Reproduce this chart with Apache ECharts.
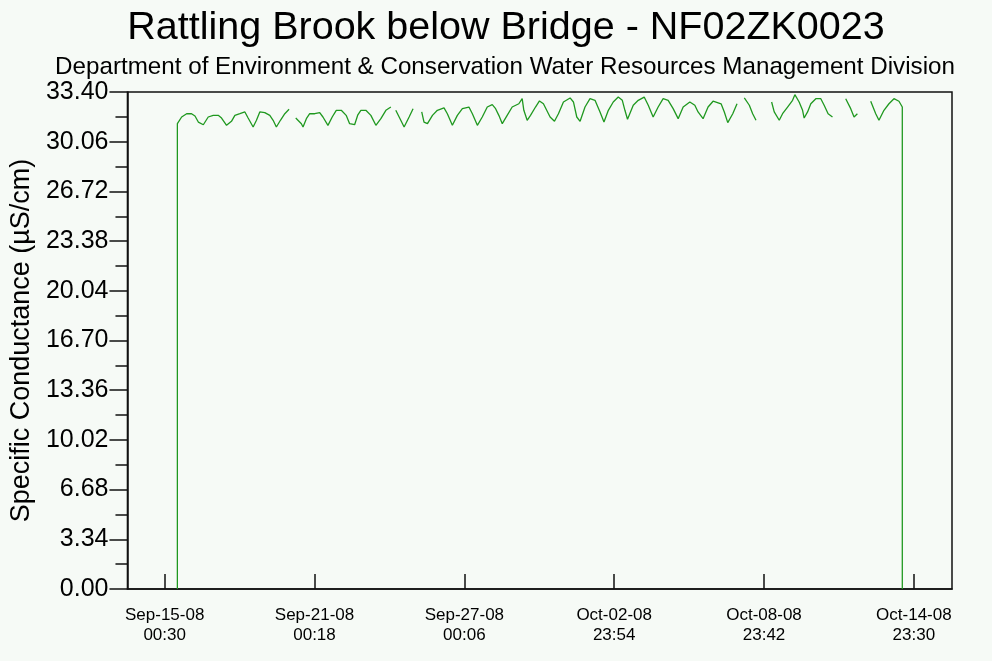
<!DOCTYPE html>
<html>
<head>
<meta charset="utf-8">
<script src="https://cdn.jsdelivr.net/npm/echarts@6/dist/echarts.min.js"></script>
<style>
  html, body { margin: 0; padding: 0; background: #f6faf6; }
  #chart { width: 992px; height: 661px; }
</style>
</head>
<body>
<div id="chart"></div>
<script>
// Specific conductance (µS/cm) logged at Rattling Brook below Bridge.
// Each pair is [hours since 2008-09-15 00:30, reading]; runs are separated where the record has gaps.
const run1 = [[12.2,0],[12.2,31.27],[16.3,31.72],[21.1,31.94],[25.8,31.94],[29.1,31.79],[32.3,31.38],[37.1,31.20],[41.8,31.72],[46.6,31.83],[51.4,31.83],[54.6,31.65],[59.4,31.16],[64.1,31.43],[67.4,31.83],[72.2,31.94],[77.0,32.06],[80.1,31.65],[84.9,31.05],[88.1,31.50],[91.3,32.06],[96.1,32.01],[100.9,31.83],[104.1,31.50],[107.2,31.05],[111.1,31.50],[115.3,31.94],[119.4,32.24]];
const run2 = [[125.8,31.65],[131.2,31.27],[132.8,31.05],[136.0,31.61],[139.2,31.94],[144.0,31.94],[148.8,32.01],[151.9,31.72],[156.7,31.16],[160.8,31.72],[164.7,32.17],[169.5,32.17],[174.2,31.83],[177.5,31.27],[182.3,31.20],[185.4,31.87],[188.3,32.17],[193.1,32.17],[197.9,31.83],[202.7,31.16],[207.5,31.61],[212.3,32.17],[217.1,32.39]];
const run3 = [[221.8,32.17],[226.6,31.50],[229.8,31.05],[234.6,31.72],[238.4,32.28]];
const run4 = [[246.7,32.06],[248.9,31.38],[252.2,31.27],[257.0,31.83],[261.7,32.17],[268.1,32.33],[271.3,31.94],[276.1,31.16],[280.9,31.83],[285.7,32.28],[292.0,32.39],[295.3,31.94],[300.1,31.16],[304.8,31.72],[309.6,32.39],[314.4,32.55],[317.6,32.28],[320.7,31.83],[324.0,31.27],[328.7,31.83],[333.5,32.39],[339.9,32.61],[343.1,32.95],[344.7,32.17],[347.9,31.50],[351.1,31.83],[355.9,32.39],[359.7,32.80],[363.5,32.61],[369.9,31.72],[374.1,31.43],[377.9,31.94],[382.7,32.73],[389.1,33.00],[392.3,32.73],[395.5,31.72],[398.7,31.43],[403.4,32.39],[408.2,32.95],[413.0,32.84],[417.8,32.06],[421.6,31.38],[425.8,32.17],[430.5,32.73],[435.3,33.06],[439.2,32.84],[441.7,32.17],[444.2,31.57],[449.7,32.51],[454.5,32.84],[460.2,33.06],[464.1,32.51],[468.8,31.72],[473.6,32.39],[478.4,32.95],[483.2,32.84],[488.0,32.28],[492.8,31.61],[497.6,32.39],[504.0,32.73],[508.8,32.51],[511.9,32.06],[516.7,31.61],[521.5,32.39],[526.3,32.78],[534.0,32.61],[537.1,32.06],[540.4,31.34],[545.2,31.94],[549.3,32.61]];
const run5 = [[556.3,33.00],[561.1,32.51],[564.3,31.94],[567.5,31.50]];
const run6 = [[582.5,32.73],[585.0,32.06],[589.8,31.50],[593.0,31.94],[597.8,32.39],[602.6,32.84],[604.8,33.22],[608.9,32.73],[612.2,32.17],[613.7,31.65],[617.0,32.06],[620.1,32.61],[624.9,32.95],[629.7,32.95],[632.9,32.51],[636.7,31.94],[640.9,31.72]];
const run7 = [[653.6,32.95],[658.4,32.28],[661.6,31.72],[664.8,31.94]];
const run8 = [[677.6,32.78],[682.4,31.94],[685.5,31.50],[690.3,32.17],[695.1,32.61],[699.9,32.95],[704.7,32.78],[707.9,32.39],[707.9,0]];

// Date/time tick marks along the bottom axis
const tickHours = [0, 143.8, 287.6, 431.4, 575.2, 719.0];
const tickDates = ['Sep-15-08', 'Sep-21-08', 'Sep-27-08', 'Oct-02-08', 'Oct-08-08', 'Oct-14-08'];
const tickTimes = ['00:30', '00:18', '00:06', '23:54', '23:42', '23:30'];

// Conductance axis
const yMin = 0, yMax = 33.4, yStep = 3.34;
const xMin = -35.7, xMax = 755.6;

const runs = [run1, run2, run3, run4, run5, run6, run7, run8];
const seriesData = [];
runs.forEach((r, i) => {
  if (i > 0) {
    const prev = runs[i - 1];
    seriesData.push([(prev[prev.length - 1][0] + r[0][0]) / 2, '-']);
  }
  r.forEach(p => seriesData.push(p));
});

const FONT = 'Liberation Sans, Arial, sans-serif';
const chart = echarts.init(document.getElementById('chart'), null, { renderer: 'canvas' });
chart.setOption({
  backgroundColor: '#f6faf6',
  animation: false,
  graphic: [
    { type: 'text', x: 506, y: 28, style: { text: 'Rattling Brook below Bridge - NF02ZK0023', font: '39.5px ' + FONT, fill: '#000', textAlign: 'center', textVerticalAlign: 'middle' } },
    { type: 'text', x: 505, y: 67, style: { text: 'Department of Environment & Conservation Water Resources Management Division', font: '24.2px ' + FONT, fill: '#000', textAlign: 'center', textVerticalAlign: 'middle' } }
  ],
  grid: { left: 126, right: 40, top: 92, bottom: 72, show: true, borderColor: '#111', borderWidth: 1.5, backgroundColor: 'transparent' },
  xAxis: {
    type: 'value', min: xMin, max: xMax,
    axisLine: { show: true, onZero: false, lineStyle: { color: '#111', width: 1.5 } },
    axisTick: { show: true, inside: true, length: 15, customValues: tickHours, lineStyle: { color: '#111', width: 1.5 } },
    axisLabel: {
      customValues: tickHours, margin: 16, color: '#000', fontSize: 17, lineHeight: 20, fontFamily: FONT,
      formatter: v => {
        const i = tickHours.findIndex(t => Math.abs(t - v) < 0.01);
        return i < 0 ? '' : tickDates[i] + '\n' + tickTimes[i];
      }
    },
    splitLine: { show: false }
  },
  yAxis: {
    type: 'value', min: yMin, max: yMax, interval: yStep,
    name: 'Specific Conductance (µS/cm)', nameLocation: 'middle', nameGap: 92,
    nameTextStyle: { fontSize: 27, color: '#000', fontFamily: FONT },
    axisLine: { show: true, onZero: false, lineStyle: { color: '#111', width: 1.5 } },
    axisTick: { show: true, length: 18, lineStyle: { color: '#111', width: 1.5 } },
    minorTick: { show: true, splitNumber: 2, length: 12, lineStyle: { color: '#111', width: 1.5 } },
    axisLabel: { margin: 19, color: '#000', fontSize: 25, fontFamily: FONT, formatter: v => v.toFixed(2) },
    splitLine: { show: false }
  },
  series: [{
    type: 'line', data: seriesData, showSymbol: false, connectNulls: false,
    lineStyle: { color: '#1f981f', width: 1.3 }
  }]
});
</script>
</body>
</html>
